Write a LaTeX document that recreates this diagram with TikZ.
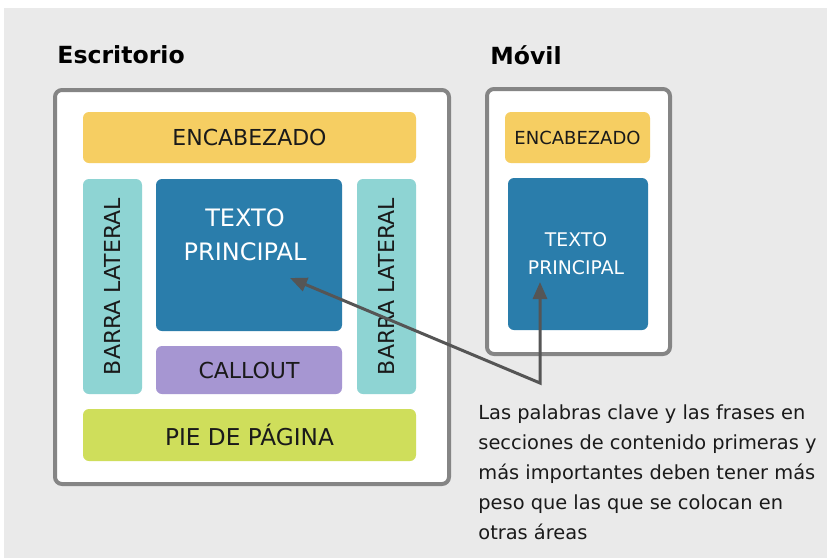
\documentclass[tikz,border=0pt]{standalone}
\usepackage{fontspec}
\setmainfont{DejaVu Sans}
\usetikzlibrary{arrows.meta}

\definecolor{fondo}{HTML}{EAEAEA}
\definecolor{borde}{HTML}{858585}
\definecolor{amarillo}{HTML}{F6CE62}
\definecolor{turquesa}{HTML}{8ED4D3}
\definecolor{azul}{HTML}{2A7DAB}
\definecolor{lila}{HTML}{A696D2}
\definecolor{lima}{HTML}{CFDE5B}
\definecolor{flechagris}{HTML}{555555}
\definecolor{tinta}{HTML}{1A1A1A}

\begin{document}
\begin{tikzpicture}[x=0.5pt, y=-0.5pt]
    \tikzset{
        marco/.style    =   { rectangle
                            , rounded corners=3.5pt
                            , draw=borde
                            , line width=2pt
                            , fill=white
                            , inner sep=0pt
        }
        , caja/.style   =   { rectangle
                            , rounded corners=3pt
                            , inner sep=0pt
                            , text centered
                            , text=tinta
                            , font=\fontsize{11}{13}\selectfont
        }
        , blanco/.style =   { align=center
                            , inner sep=0pt
                            , text=white
        }
        , titulo/.style =   { anchor=west
                            , inner sep=0pt
                            , font=\fontsize{11.8}{14}\selectfont\bfseries
        }
        , flecha/.style =   { line width=1.5pt
                            , draw=flechagris
                            , {Triangle[length=8.5pt,width=7pt]}-{Triangle[length=8.5pt,width=7pt]}
        }
    }
    \useasboundingbox[fill=white] (0,0) rectangle (827,558);
    \fill[fondo] (4,8) rectangle (827,558);

    % escritorio
    \node(tesc)[titulo] at (57,55) {Escritorio};
    \node(esc)[marco, minimum width=197pt, minimum height=197pt] at (252,287) {};
    \node(enc)[caja, fill=amarillo, minimum width=166.5pt, minimum height=25.5pt] at (249.5,137.5) {ENCABEZADO};
    \node(barraizq)[caja, fill=turquesa, rotate=90, minimum width=107.5pt, minimum height=29.5pt] at (112.5,286.5) {BARRA LATERAL};
    \node(texto)[caja, fill=azul, minimum width=93pt, minimum height=76pt] at (249,255) {};
    \node(textolbl)[blanco, font=\fontsize{12}{17}\selectfont] at (245,235) {TEXTO\\PRINCIPAL};
    \node(callout)[caja, fill=lila, minimum width=93pt, minimum height=24pt] at (249,370) {CALLOUT};
    \node(barrader)[caja, fill=turquesa, rotate=90, minimum width=107.5pt, minimum height=29.5pt] at (386.5,286.5) {BARRA LATERAL};
    \node(pie)[caja, fill=lima, minimum width=166.5pt, minimum height=26pt, font=\fontsize{11.6}{13}\selectfont] at (249.5,435) {PIE DE PÁGINA};

    % movil
    \node(tmov)[titulo] at (490,55) {Móvil};
    \node(mov)[marco, minimum width=91.5pt, minimum height=132.5pt] at (578.5,221.5) {};
    \node(encmov)[caja, fill=amarillo, minimum width=72.5pt, minimum height=25.5pt, font=\fontsize{9}{11}\selectfont] at (577.5,137.5) {ENCABEZADO};
    \node(textomov)[caja, fill=azul, minimum width=70pt, minimum height=76pt] at (578,254) {};
    \node(textomovlbl)[blanco, font=\fontsize{9.4}{14}\selectfont] at (576,254) {TEXTO\\PRINCIPAL};

    % nota
    \coordinate(union) at (540,383);
    \coordinate(puntaesc) at (290,278);
    \coordinate(puntamov) at (540,282);
    \draw[flecha] (puntaesc) -- (union) -- (puntamov);
    \node(nota)[anchor=north west, inner sep=0pt, align=left, text=tinta, font=\fontsize{9.7}{15}\selectfont] at (478,404)
        {Las palabras clave y las frases en\\secciones de contenido primeras y\\más importantes deben tener más\\peso que las que se colocan en\\otras áreas};
\end{tikzpicture}
\end{document}
